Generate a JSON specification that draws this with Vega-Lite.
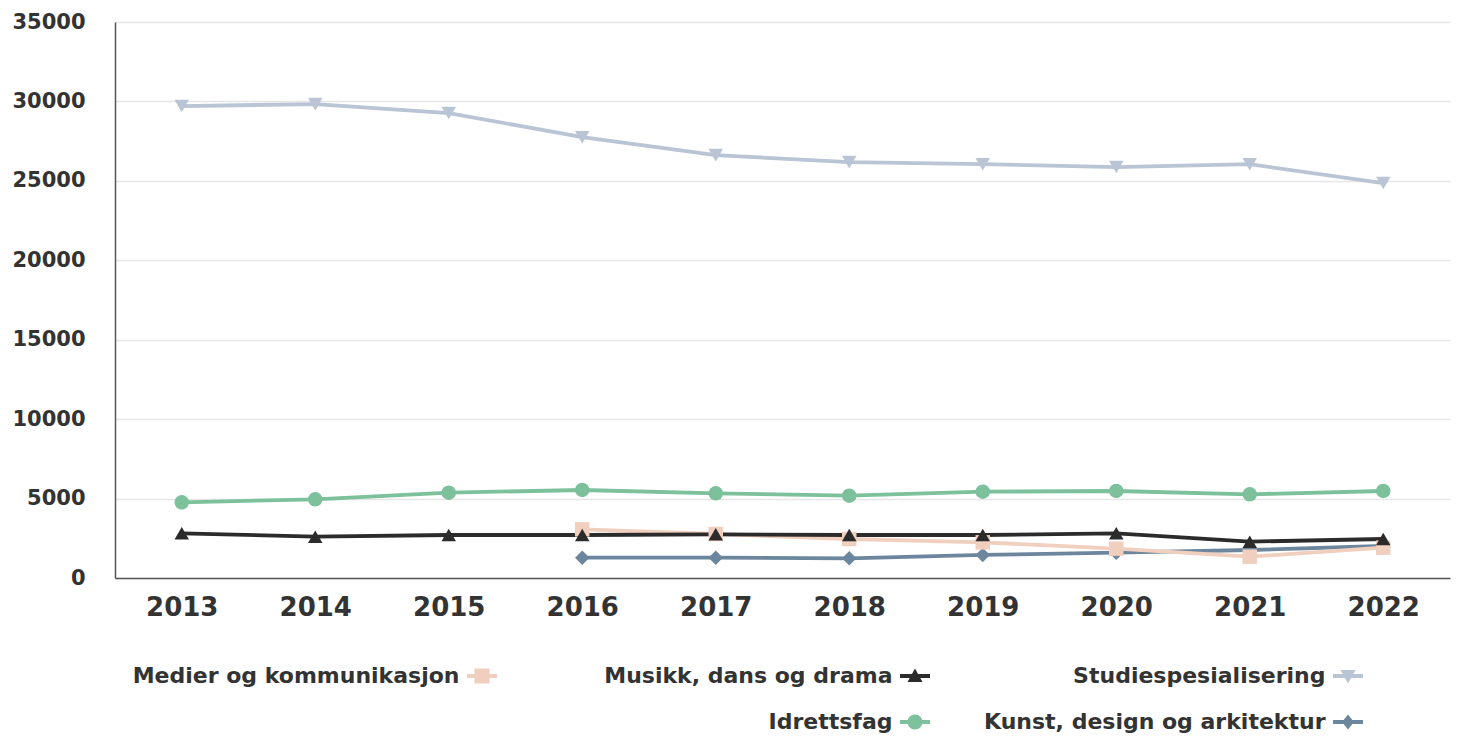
{
  "$schema": "https://vega.github.io/schema/vega-lite/v6.json",
  "width": 1335,
  "height": 556,
  "autosize": {"type": "none"},
  "padding": {"left": 115, "top": 22, "right": 8, "bottom": 158},
  "config": {"view": {"stroke": null}, "font": "DejaVu Sans"},
  "data": {
    "values": [
      {"year": "2016", "series": "Kunst, design og arkitektur", "value": 1280},
      {"year": "2017", "series": "Kunst, design og arkitektur", "value": 1280},
      {"year": "2018", "series": "Kunst, design og arkitektur", "value": 1240},
      {"year": "2019", "series": "Kunst, design og arkitektur", "value": 1450},
      {"year": "2020", "series": "Kunst, design og arkitektur", "value": 1595},
      {"year": "2021", "series": "Kunst, design og arkitektur", "value": 1763},
      {"year": "2022", "series": "Kunst, design og arkitektur", "value": 2014},
      {"year": "2013", "series": "Studiespesialisering", "value": 29710},
      {"year": "2014", "series": "Studiespesialisering", "value": 29830},
      {"year": "2015", "series": "Studiespesialisering", "value": 29270},
      {"year": "2016", "series": "Studiespesialisering", "value": 27750},
      {"year": "2017", "series": "Studiespesialisering", "value": 26620},
      {"year": "2018", "series": "Studiespesialisering", "value": 26180},
      {"year": "2019", "series": "Studiespesialisering", "value": 26050},
      {"year": "2020", "series": "Studiespesialisering", "value": 25870},
      {"year": "2021", "series": "Studiespesialisering", "value": 26050},
      {"year": "2022", "series": "Studiespesialisering", "value": 24860},
      {"year": "2013", "series": "Idrettsfag", "value": 4765},
      {"year": "2014", "series": "Idrettsfag", "value": 4954},
      {"year": "2015", "series": "Idrettsfag", "value": 5370},
      {"year": "2016", "series": "Idrettsfag", "value": 5540},
      {"year": "2017", "series": "Idrettsfag", "value": 5330},
      {"year": "2018", "series": "Idrettsfag", "value": 5180},
      {"year": "2019", "series": "Idrettsfag", "value": 5435},
      {"year": "2020", "series": "Idrettsfag", "value": 5477},
      {"year": "2021", "series": "Idrettsfag", "value": 5267},
      {"year": "2022", "series": "Idrettsfag", "value": 5477},
      {"year": "2016", "series": "Medier og kommunikasjon", "value": 3063},
      {"year": "2017", "series": "Medier og kommunikasjon", "value": 2770},
      {"year": "2018", "series": "Medier og kommunikasjon", "value": 2455},
      {"year": "2019", "series": "Medier og kommunikasjon", "value": 2245},
      {"year": "2020", "series": "Medier og kommunikasjon", "value": 1846},
      {"year": "2021", "series": "Medier og kommunikasjon", "value": 1343},
      {"year": "2022", "series": "Medier og kommunikasjon", "value": 1908},
      {"year": "2013", "series": "Musikk, dans og drama", "value": 2812},
      {"year": "2014", "series": "Musikk, dans og drama", "value": 2600},
      {"year": "2015", "series": "Musikk, dans og drama", "value": 2707},
      {"year": "2016", "series": "Musikk, dans og drama", "value": 2707},
      {"year": "2017", "series": "Musikk, dans og drama", "value": 2748},
      {"year": "2018", "series": "Musikk, dans og drama", "value": 2707},
      {"year": "2019", "series": "Musikk, dans og drama", "value": 2707},
      {"year": "2020", "series": "Musikk, dans og drama", "value": 2812},
      {"year": "2021", "series": "Musikk, dans og drama", "value": 2287},
      {"year": "2022", "series": "Musikk, dans og drama", "value": 2455}
    ]
  },
  "encoding": {
    "x": {
      "field": "year",
      "type": "ordinal",
      "axis": {
        "title": null,
        "labelAngle": 0,
        "ticks": false,
        "grid": false,
        "domainColor": "#555555",
        "domainWidth": 1.5,
        "labelFont": "DejaVu Sans",
        "labelFontSize": 26,
        "labelFontWeight": "bold",
        "labelColor": "#333333",
        "labelPadding": 16
      }
    },
    "y": {
      "field": "value",
      "type": "quantitative",
      "scale": {"domain": [0, 35000]},
      "axis": {
        "title": null,
        "values": [0, 5000, 10000, 15000, 20000, 25000, 30000, 35000],
        "format": "d",
        "ticks": false,
        "domainColor": "#555555",
        "domainWidth": 1.5,
        "gridColor": "#e6e6e6",
        "gridWidth": 1.5,
        "labelFont": "DejaVu Sans",
        "labelFontSize": 21,
        "labelFontWeight": "bold",
        "labelColor": "#333333",
        "labelPadding": 30
      }
    }
  },
  "layer": [
    {
      "mark": {"type": "line", "strokeWidth": 3.8},
      "encoding": {
        "color": {
          "field": "series",
          "type": "nominal",
          "scale": {
            "domain": ["Medier og kommunikasjon", "Musikk, dans og drama", "Studiespesialisering", " ", "Idrettsfag", "Kunst, design og arkitektur"],
            "range": ["#f0cfbf", "#2b2b2b", "#b9c4d5", "#ffffff", "#7cc09c", "#6c879d"]
          },
          "legend": null
        }
      }
    },
    {
      "mark": {"type": "point", "filled": true, "opacity": 1, "size": 210},
      "encoding": {
        "color": {"field": "series", "type": "nominal", "legend": null},
        "shape": {
          "field": "series",
          "type": "nominal",
          "scale": {
            "domain": ["Medier og kommunikasjon", "Musikk, dans og drama", "Studiespesialisering", " ", "Idrettsfag", "Kunst, design og arkitektur"],
            "range": ["square", "triangle-up", "triangle-down", "circle", "circle", "diamond"]
          },
          "legend": null
        }
      }
    },
    {
      "mark": {"type": "point", "filled": true, "opacity": 0, "size": 1},
      "encoding": {
        "color": {"field": "series", "type": "nominal", "legend": null},
        "shape": {
          "field": "series",
          "type": "nominal",
          "scale": {
            "domain": ["Medier og kommunikasjon", "Musikk, dans og drama", "Studiespesialisering", " ", "Idrettsfag", "Kunst, design og arkitektur"],
            "range": [
              "M-55.7,0M-2,-0.27L2,-0.27L2,0.27L-2,0.27ZM-1,-1L1,-1L1,1L-1,1Z",
              "M-55.7,0M-2,-0.27L2,-0.27L2,0.27L-2,0.27ZM0,-1L1,0.8L-1,0.8Z",
              "M-55.7,0M-2,-0.27L2,-0.27L2,0.27L-2,0.27ZM-1,-0.8L1,-0.8L0,1Z",
              "M-55.7,0",
              "M-55.7,0M-2,-0.27L2,-0.27L2,0.27L-2,0.27ZM-1,0A1,1,0,1,1,1,0A1,1,0,1,1,-1,0Z",
              "M-55.7,0M-2,-0.27L2,-0.27L2,0.27L-2,0.27ZM0,-1L0.8,0L0,1L-0.8,0Z"
            ]
          },
          "legend": {
            "title": null,
            "orient": "none",
            "legendX": 356,
            "legendY": 643,
            "direction": "horizontal",
            "columns": 3,
            "symbolSize": 225,
            "symbolOpacity": 1,
            "symbolStrokeWidth": 0,
            "symbolFillColor": {"expr": "scale('color', datum.value)"},
            "labelAlign": "right",
            "labelOffset": -33.5,
            "labelFont": "DejaVu Sans",
            "labelFontSize": 22,
            "labelFontWeight": "bold",
            "labelColor": "#333333",
            "labelLimit": 600,
            "columnPadding": 0,
            "rowPadding": 24,
            "padding": 0
          }
        }
      }
    }
  ],
  "resolve": {"scale": {"shape": "independent"}}
}
